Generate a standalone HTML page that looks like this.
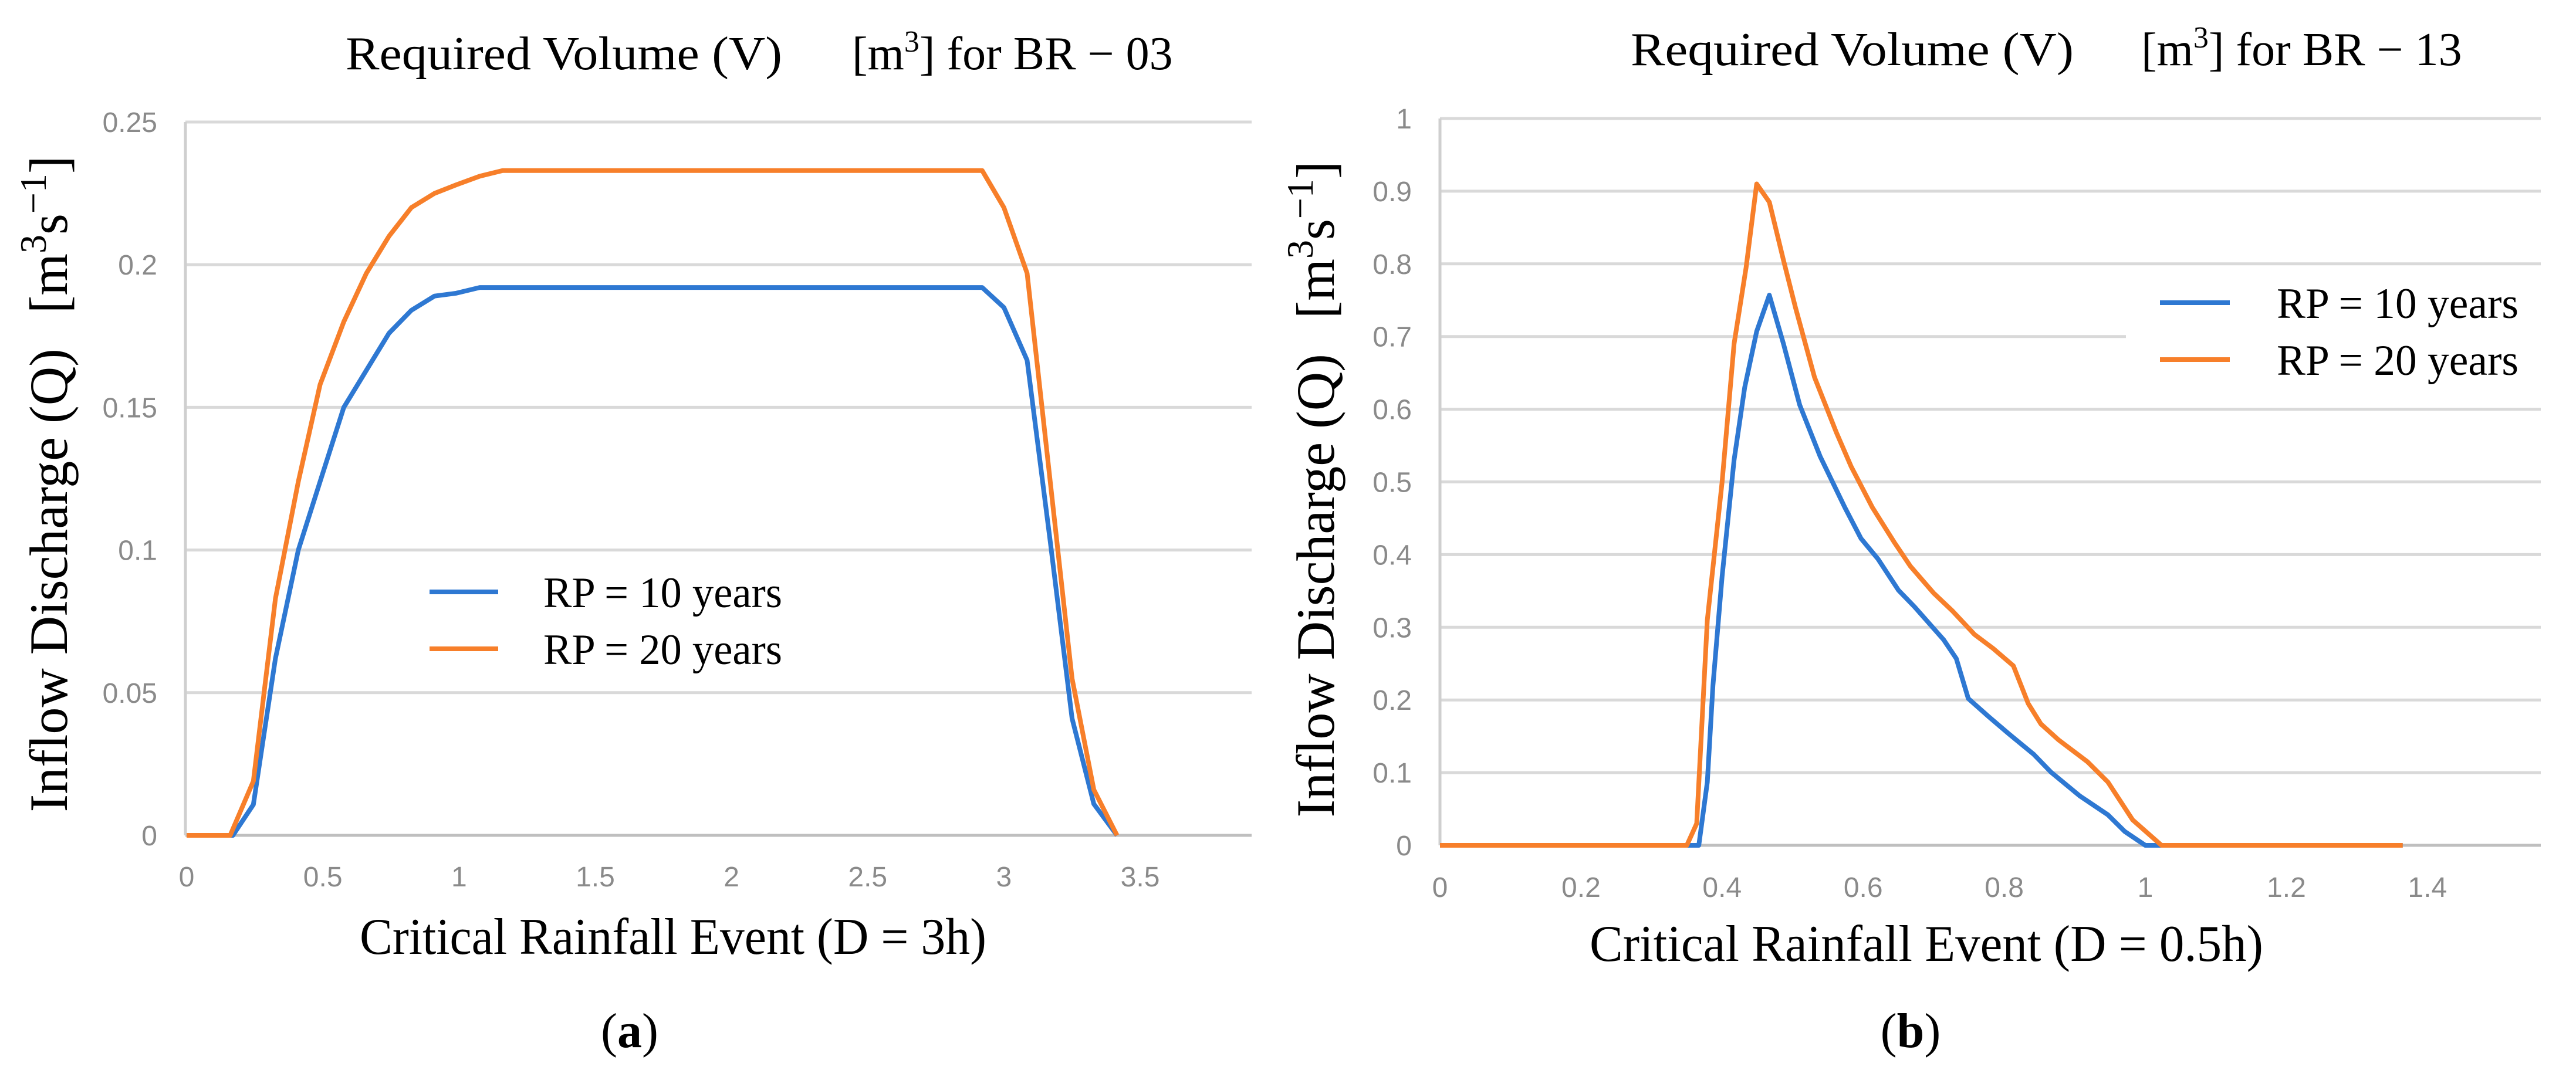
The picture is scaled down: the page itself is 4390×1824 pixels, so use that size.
<!DOCTYPE html>
<html><head><meta charset="utf-8">
<style>
html,body{margin:0;padding:0;background:#fff;}
svg{display:block;}
.tick{font-family:"Liberation Sans",sans-serif;font-size:48px;fill:#8a8a8a;}
.serif{font-family:"Liberation Serif",serif;fill:#000;}
</style></head>
<body>
<svg id="fig" width="4390" height="1824" viewBox="0 0 4390 1824" xmlns="http://www.w3.org/2000/svg">
<rect width="4390" height="1824" fill="#fff"/>
<g id="chartA"></g>
<g id="chartB"></g>
</svg>
<script>
// ---- Chart (a) data ----
const aXTicks = [0, 0.5, 1, 1.5, 2, 2.5, 3, 3.5];
const aXTickLabels = ["0", "0.5", "1", "1.5", "2", "2.5", "3", "3.5"];
const aYTicks = [0, 0.05, 0.1, 0.15, 0.2, 0.25];
const aYTickLabels = ["0", "0.05", "0.1", "0.15", "0.2", "0.25"];
const aX10 = [0, 0.17, 0.245, 0.326, 0.41, 0.49, 0.577, 0.66, 0.743, 0.825, 0.91, 0.99, 1.076, 2.92, 3.0, 3.085, 3.17, 3.25, 3.33, 3.415];
const aY10 = [0, 0, 0.0108, 0.062, 0.1, 0.124, 0.15, 0.163, 0.176, 0.184, 0.189, 0.19, 0.192, 0.192, 0.185, 0.1665, 0.103, 0.041, 0.011, 0];
const aX20 = [0, 0.16, 0.245, 0.326, 0.41, 0.49, 0.577, 0.66, 0.743, 0.825, 0.91, 0.99, 1.076, 1.16, 2.92, 3.0, 3.085, 3.17, 3.25, 3.33, 3.415];
const aY20 = [0, 0, 0.019, 0.083, 0.124, 0.158, 0.18, 0.197, 0.21, 0.22, 0.225, 0.228, 0.231, 0.233, 0.233, 0.22, 0.197, 0.124, 0.055, 0.016, 0];

// ---- Chart (b) data ----
const bXTicks = [0, 0.2, 0.4, 0.6, 0.8, 1, 1.2, 1.4];
const bXTickLabels = ["0", "0.2", "0.4", "0.6", "0.8", "1", "1.2", "1.4"];
const bYTicks = [0, 0.1, 0.2, 0.3, 0.4, 0.5, 0.6, 0.7, 0.8, 0.9, 1];
const bYTickLabels = ["0", "0.1", "0.2", "0.3", "0.4", "0.5", "0.6", "0.7", "0.8", "0.9", "1"];
const bX10 = [0, 0.367, 0.379, 0.387, 0.4, 0.417, 0.432, 0.449, 0.467, 0.487, 0.51, 0.539, 0.574, 0.597, 0.621, 0.65, 0.673, 0.714, 0.732, 0.749, 0.778, 0.807, 0.842, 0.866, 0.907, 0.947, 0.971, 1.0, 1.365];
const bY10 = [0, 0, 0.087, 0.22, 0.37, 0.53, 0.63, 0.707, 0.757, 0.69, 0.606, 0.535, 0.465, 0.422, 0.394, 0.351, 0.328, 0.283, 0.257, 0.202, 0.177, 0.153, 0.125, 0.101, 0.068, 0.042, 0.019, 0, 0];
const bX20 = [0, 0.35, 0.364, 0.379, 0.4, 0.417, 0.434, 0.449, 0.467, 0.487, 0.504, 0.531, 0.562, 0.583, 0.613, 0.644, 0.667, 0.7, 0.726, 0.758, 0.784, 0.813, 0.834, 0.852, 0.877, 0.918, 0.947, 0.982, 1.023, 1.365];
const bY20 = [0, 0, 0.03, 0.31, 0.5, 0.69, 0.795, 0.91, 0.885, 0.805, 0.74, 0.644, 0.568, 0.521, 0.465, 0.417, 0.384, 0.347, 0.323, 0.29, 0.271, 0.247, 0.195, 0.167, 0.145, 0.115, 0.087, 0.035, 0, 0];

const NS = "http://www.w3.org/2000/svg";
const BLUE = "#2e78d2", ORANGE = "#f77f2a";

function mk(parent, tag, attrs, text) {
  const el = document.createElementNS(NS, tag);
  for (const k in attrs) el.setAttribute(k, attrs[k]);
  if (text !== undefined) el.textContent = text;
  parent.appendChild(el);
  return el;
}

function drawChart(g, cfg) {
  const xs = v => cfg.x0 + (v - cfg.xmin) * cfg.xUnit;
  const ys = v => cfg.y0 - (v / cfg.ymax) * (cfg.y0 - cfg.yTop);
  cfg.yTicks.forEach((t, i) => {
    const right = (cfg.cut && cfg.cut.value === t) ? cfg.cut.x : cfg.right;
    const ln = mk(g, "line", {x1: cfg.left, x2: right, y1: ys(t), y2: ys(t), stroke: i === 0 ? "#bfbfbf" : "#d9d9d9", "stroke-width": 5});
    
    
    const lb = mk(g, "text", {x: cfg.left - 48, y: ys(t) + 17, "text-anchor": "end", class: "tick"}, cfg.yLabels[i]);
    
    
  });
  const ax = mk(g, "line", {x1: cfg.left, x2: cfg.left, y1: ys(cfg.ymax), y2: cfg.y0, stroke: "#cfcfcf", "stroke-width": 5});
  
  
  cfg.xTicks.forEach((t, i) => {
    const lb = mk(g, "text", {x: xs(t), y: cfg.xLabelY, "text-anchor": "middle", class: "tick"}, cfg.xLabels[i]);
    
    
  });
  cfg.series.forEach(s => {
    const d = s.x.map((v, i) => (i ? "L" : "M") + xs(v).toFixed(1) + "," + ys(s.y[i]).toFixed(1)).join(" ");
    const p = mk(g, "path", {d: d, fill: "none", stroke: s.color, "stroke-width": 8, "stroke-linejoin": "round"});
    
    
  });
  cfg.legend.forEach(l => {
    const ln = mk(g, "line", {x1: l.x1, x2: l.x2, y1: l.y, y2: l.y, stroke: l.color, "stroke-width": 8});
    
    
    const tx = mk(g, "text", {x: l.tx, y: l.y + 26, class: "serif", "font-size": 74, textLength: l.tw, lengthAdjust: "spacingAndGlyphs"}, l.text);
    
    
  });
  const t1 = mk(g, "text", {x: cfg.t1x, y: cfg.tY, class: "serif", "font-size": 80, textLength: cfg.t1w, lengthAdjust: "spacingAndGlyphs"}, "Required Volume (V)");
  
  
  const t2 = mk(g, "text", {x: cfg.t2x, y: cfg.tY, class: "serif", "font-size": 80});
  
  
  mk(t2, "tspan", {}, "[m");
  mk(t2, "tspan", {dy: -30, "font-size": 52}, "3");
  mk(t2, "tspan", {dy: 30}, "] for BR \u2212 " + cfg.code);
  const yt = mk(g, "text", {x: 0, y: 0, class: "serif", "font-size": 92, "text-anchor": "middle", transform: "translate(" + (cfg.ytx + 30) + "," + cfg.yty + ") rotate(-90)"});
  
  
  mk(yt, "tspan", {}, "Inflow Discharge (Q)");
  mk(yt, "tspan", {dx: 60}, "[m");
  mk(yt, "tspan", {dy: -36, "font-size": 64}, "3");
  mk(yt, "tspan", {dy: 36}, "s");
  mk(yt, "tspan", {dy: -36, "font-size": 64}, "\u22121");
  mk(yt, "tspan", {dy: 36}, "]");
  const xt = mk(g, "text", {x: cfg.xtx, y: cfg.xtY, class: "serif", "font-size": 88, textLength: cfg.xtw, lengthAdjust: "spacingAndGlyphs"}, cfg.xTitle);
  
  
  const cap = mk(g, "text", {x: cfg.capx, y: 1785, class: "serif", "font-size": 84, "text-anchor": "middle"});
  
  
  mk(cap, "tspan", {}, "(");
  mk(cap, "tspan", {"font-weight": "bold"}, cfg.cap);
  mk(cap, "tspan", {}, ")");
}

drawChart(document.getElementById("chartA"), {
  left: 316, right: 2133, x0: 318, xmin: 0, xUnit: 464.3, y0: 1424, yTop: 208, ymax: 0.25,
  yTicks: aYTicks, yLabels: aYTickLabels, xTicks: aXTicks, xLabels: aXTickLabels, xLabelY: 1511,
  series: [
    {x: aX10, y: aY10, color: BLUE, name: "series-rp-10"},
    {x: aX20, y: aY20, color: ORANGE, name: "series-rp-20"}
  ],
  legend: [
    {x1: 732, x2: 849, y: 1009, color: BLUE, tx: 926, tw: 407, text: "RP = 10 years"},
    {x1: 732, x2: 849, y: 1106, color: ORANGE, tx: 926, tw: 407, text: "RP = 20 years"}
  ],
  t1x: 589, t1w: 744, t2x: 1452, tY: 118, code: "03",
  ytx: 84, yty: 825, xtx: 613, xtw: 1068, xtY: 1626, xTitle: "Critical Rainfall Event (D = 3h)",
  capx: 1073, cap: "a"
});

drawChart(document.getElementById("chartB"), {
  left: 2454, right: 4330, x0: 2454, xmin: 0, xUnit: 1202, y0: 1441, yTop: 202, ymax: 1,
  yTicks: bYTicks, yLabels: bYTickLabels, xTicks: bXTicks, xLabels: bXTickLabels, xLabelY: 1529,
  cut: {value: 0.7, x: 3623},
  series: [
    {x: bX10, y: bY10, color: BLUE, name: "series-rp-10"},
    {x: bX20, y: bY20, color: ORANGE, name: "series-rp-20"}
  ],
  legend: [
    {x1: 3681, x2: 3800, y: 516, color: BLUE, tx: 3880, tw: 412, text: "RP = 10 years"},
    {x1: 3681, x2: 3800, y: 613, color: ORANGE, tx: 3880, tw: 412, text: "RP = 20 years"}
  ],
  t1x: 2779, t1w: 755, t2x: 3649, tY: 111, code: "13",
  ytx: 2243, yty: 834, xtx: 2709, xtw: 1148, xtY: 1638, xTitle: "Critical Rainfall Event (D = 0.5h)",
  capx: 3256, cap: "b"
});
</script>
</body></html>
